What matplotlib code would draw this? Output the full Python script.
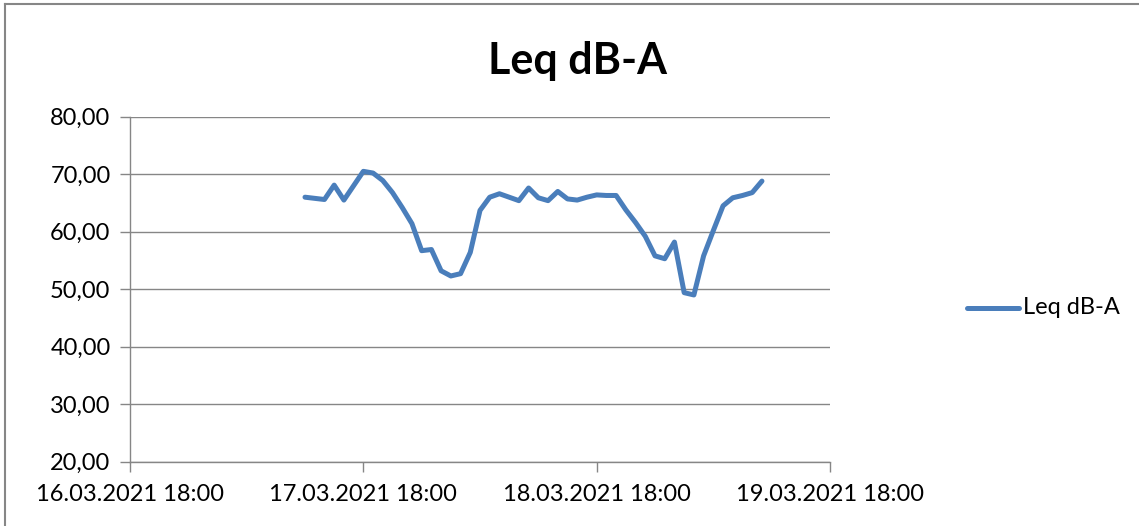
import matplotlib
matplotlib.use("Agg")
import matplotlib.pyplot as plt
from matplotlib.lines import Line2D
import pandas as pd

plt.rcParams['font.family'] = ['Lato', 'DejaVu Sans']

series_name = "Leq dB-A"
start_time = "2021-03-17 12:00"
leq_values = [66.0, 65.8, 65.6, 68.1, 65.5, 68.0, 70.5, 70.2, 68.9, 66.8,
              64.2, 61.4, 56.7, 56.9, 53.2, 52.3, 52.7, 56.4, 63.7, 66.0,
              66.6, 66.0, 65.4, 67.6, 65.9, 65.4, 67.0, 65.7, 65.5, 66.0,
              66.4, 66.3, 66.3, 63.8, 61.6, 59.2, 55.8, 55.3, 58.2, 49.4,
              49.0, 55.8, 60.2, 64.5, 65.9, 66.3, 66.8, 68.8]
times = pd.date_range(start_time, periods=len(leq_values), freq="h")
x_start = pd.Timestamp("2021-03-16 18:00")
x_end = pd.Timestamp("2021-03-19 18:00")
y_ticks = [20, 30, 40, 50, 60, 70, 80]

W, H = 1139, 526
fig = plt.figure(figsize=(W / 100, H / 100), dpi=100)
ax = fig.add_axes([130 / W, 1 - 461.7 / H, 700 / W, 345 / H])

line_color = "#4a7ebb"
grid_color = "#868686"
fs = 17

ax.plot(times, leq_values, color=line_color, lw=3.6, solid_joinstyle="round",
        solid_capstyle="round", zorder=3)

ax.set_xlim(x_start, x_end)
ax.set_ylim(20, 80)
ax.set_yticks(y_ticks)
ax.set_yticklabels([f"{v:.2f}".replace(".", ",") for v in y_ticks])
ticks = pd.date_range(x_start, x_end, freq="D")
ax.set_xticks(ticks)
ax.set_xticklabels([t.strftime("%d.%m.%Y %H:%M") for t in ticks])

ax.grid(axis="y", color=grid_color, lw=1.0)
ax.set_axisbelow(True)
for s in ["top", "right"]:
    ax.spines[s].set_visible(False)
for s in ["left", "bottom"]:
    ax.spines[s].set_color(grid_color)
    ax.spines[s].set_linewidth(1.0)
ax.tick_params(axis="both", colors=grid_color, labelcolor="black",
               labelsize=fs, length=7, width=1.0)
ax.tick_params(axis="x", pad=9)
ax.tick_params(axis="y", pad=7)

fig.text(577 / W, 1 - 61 / H, series_name, ha="center", va="center",
         fontsize=31, fontweight="bold")

# legend
fig.add_artist(Line2D([967 / W, 1019 / W], [1 - 308 / H, 1 - 308 / H],
                      color=line_color, lw=3.6, solid_capstyle="round"))
fig.text(1023 / W, 1 - 308 / H, series_name, ha="left", va="center",
         fontsize=fs)

# chart frame (top and left visible)
fig.add_artist(Line2D([5 / W, 1.0], [1 - 3.5 / H, 1 - 3.5 / H],
                      color=grid_color, lw=1.5))
fig.add_artist(Line2D([5 / W, 5 / W], [0.0, 1 - 3.5 / H],
                      color=grid_color, lw=1.5))

fig.savefig("out.png", dpi=100)
